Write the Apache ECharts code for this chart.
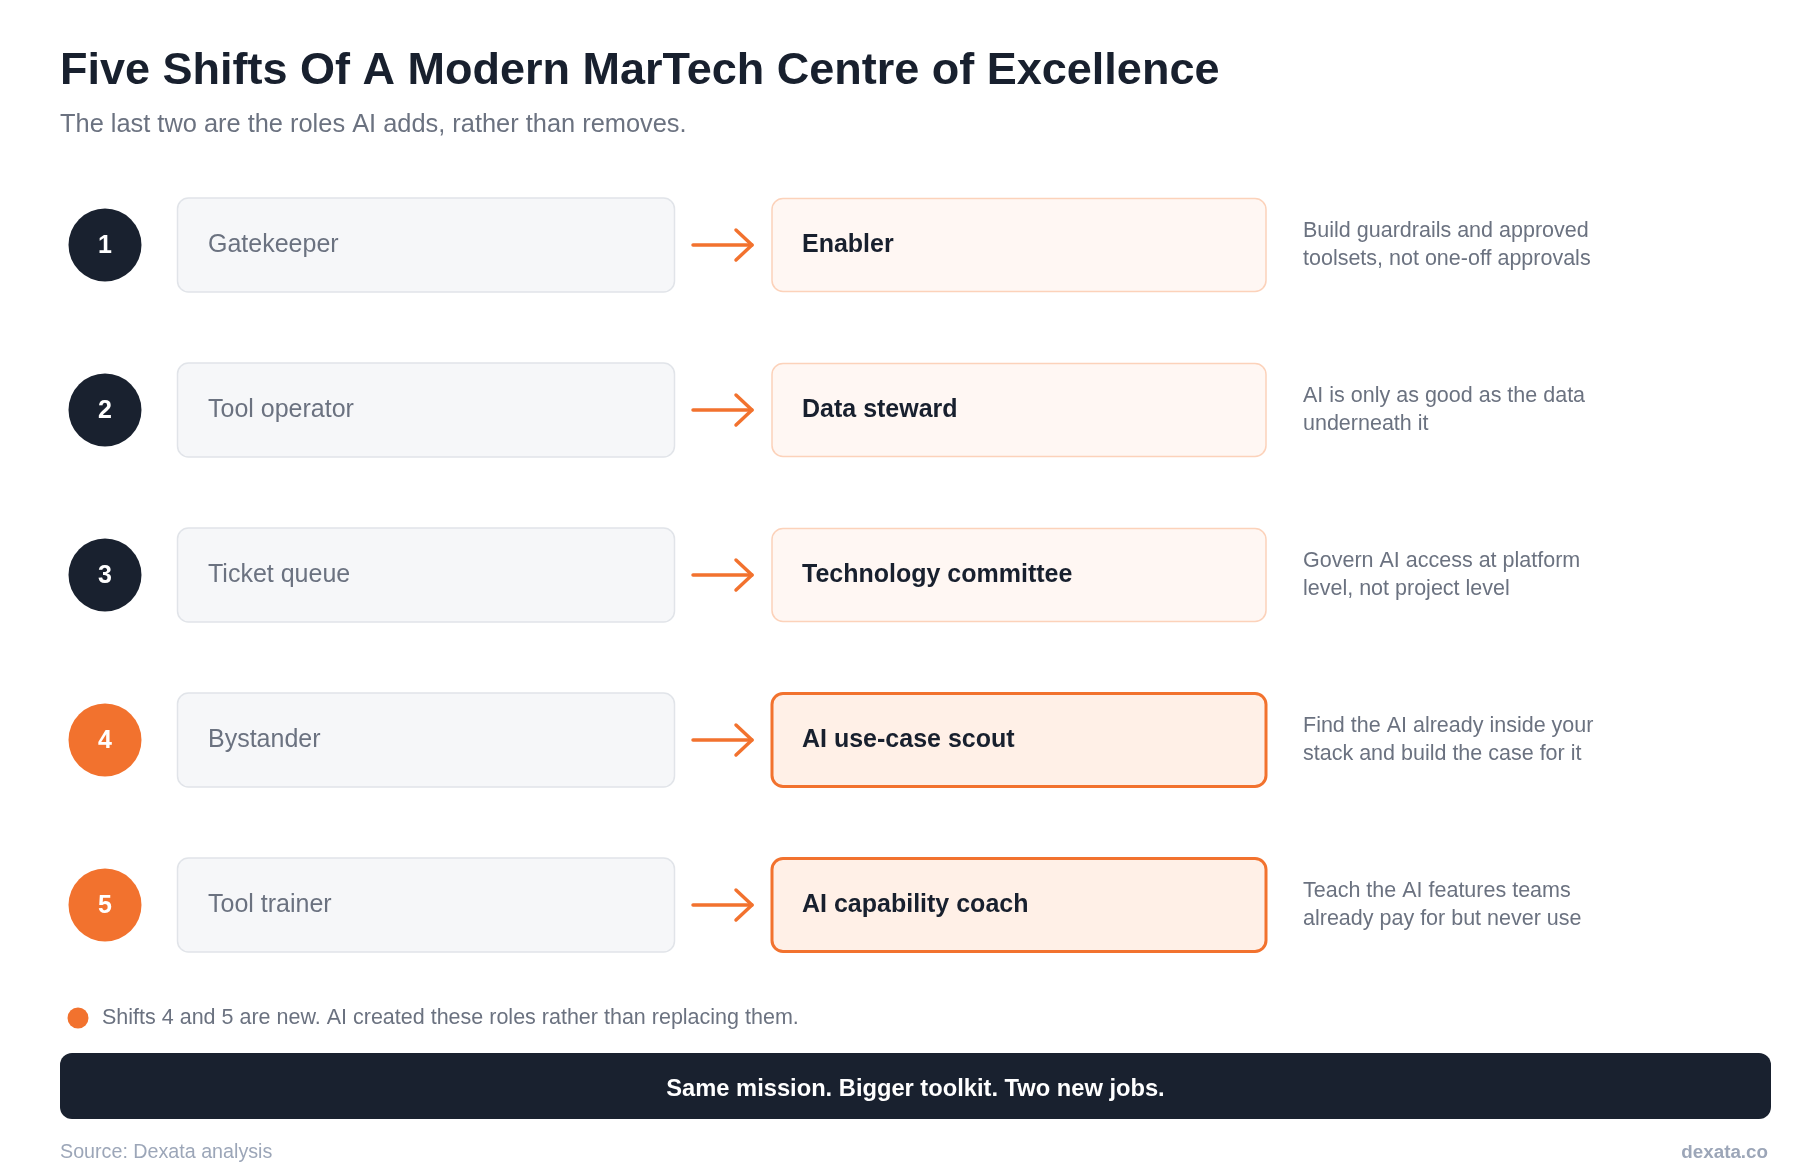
<!DOCTYPE html>
<html>
<head>
<meta charset="utf-8">
<title>Five Shifts Of A Modern MarTech Centre of Excellence</title>
<script src="https://cdn.jsdelivr.net/npm/echarts@6/dist/echarts.min.js"></script>
<style>
  html, body { margin: 0; padding: 0; background: #ffffff; }
  #chart { width: 1800px; height: 1170px; }
</style>
</head>
<body>
<div id="chart"></div>
<script>
// data
var shiftNums = ['1', '2', '3', '4', '5'];
var fromRoles = ['Gatekeeper', 'Tool operator', 'Ticket queue', 'Bystander', 'Tool trainer'];
var toRoles = ['Enabler', 'Data steward', 'Technology committee', 'AI use-case scout', 'AI capability coach'];
var shiftNotes = [
  'Build guardrails and approved\ntoolsets, not one-off approvals',
  'AI is only as good as the data\nunderneath it',
  'Govern AI access at platform\nlevel, not project level',
  'Find the AI already inside your\nstack and build the case for it',
  'Teach the AI features teams\nalready pay for but never use'
];
var isNewRole = [false, false, false, true, true];

var titleText = 'Five Shifts Of A Modern MarTech Centre of Excellence';
var subText = 'The last two are the roles AI adds, rather than removes.';
var legendNote = 'Shifts 4 and 5 are new. AI created these roles rather than replacing them.';
var bannerText = 'Same mission. Bigger toolkit. Two new jobs.';
var sourceText = 'Source: Dexata analysis';
var brandText = 'dexata.co';

// colours
var NAVY = '#19212f';
var ORANGE = '#f2722e';
var GREY = '#6b7280';
var FONT = '"Liberation Sans", Arial, Helvetica, sans-serif';

function renderRow(params, api) {
  var idx = api.value(1);
  var cy = api.coord([0, idx])[1];
  var fresh = isNewRole[idx];
  return {
    type: 'group',
    children: [
      {
        type: 'circle',
        shape: { cx: 105, cy: cy, r: 36.5 },
        style: { fill: fresh ? ORANGE : NAVY }
      },
      {
        type: 'text',
        style: {
          text: shiftNums[idx], x: 105, y: cy + 1, align: 'center', verticalAlign: 'middle',
          fontFamily: FONT, fontSize: 25, fontWeight: 'bold', fill: '#ffffff'
        }
      },
      {
        type: 'rect',
        shape: { x: 177.5, y: cy - 47, width: 497, height: 94, r: 11 },
        style: { fill: '#f6f7f9', stroke: '#e1e4e9', lineWidth: 1.5 }
      },
      {
        type: 'text',
        style: {
          text: fromRoles[idx], x: 208, y: cy, verticalAlign: 'middle',
          fontFamily: FONT, fontSize: 25, fill: GREY
        }
      },
      {
        type: 'polyline',
        shape: { points: [[693, cy], [752, cy]] },
        style: { stroke: ORANGE, lineWidth: 3.5, lineCap: 'round', fill: null }
      },
      {
        type: 'polyline',
        shape: { points: [[736, cy - 15], [752, cy], [736, cy + 15]] },
        style: { stroke: ORANGE, lineWidth: 3.5, lineCap: 'round', lineJoin: 'round', fill: null }
      },
      {
        type: 'rect',
        shape: { x: 772, y: cy - 46.5, width: 494, height: 93, r: 11 },
        style: fresh
          ? { fill: '#fff0e7', stroke: ORANGE, lineWidth: 3 }
          : { fill: '#fff7f3', stroke: '#fcd2ba', lineWidth: 1.5 }
      },
      {
        type: 'text',
        style: {
          text: toRoles[idx], x: 802, y: cy, verticalAlign: 'middle',
          fontFamily: FONT, fontSize: 25, fontWeight: 'bold', fill: '#18202e'
        }
      },
      {
        type: 'text',
        style: {
          text: shiftNotes[idx], x: 1303, y: cy, verticalAlign: 'middle',
          fontFamily: FONT, fontSize: 21.5, lineHeight: 28, fill: GREY
        }
      }
    ]
  };
}

var myChart = echarts.init(document.getElementById('chart'), null, { renderer: 'canvas' });

var option = {
  backgroundColor: '#ffffff',
  animation: false,
  title: [
    {
      text: titleText,
      left: 60, top: 44, padding: 0,
      textStyle: { fontFamily: FONT, fontSize: 45, fontWeight: 'bold', color: '#18202e', lineHeight: 56 }
    },
    {
      text: subText,
      left: 60, top: 109, padding: 0,
      textStyle: { fontFamily: FONT, fontSize: 25.4, fontWeight: 'normal', color: GREY, lineHeight: 32 }
    }
  ],
  grid: { left: 0, right: 0, top: 162.5, bottom: 182.5 },
  xAxis: { type: 'value', min: 0, max: 1800, show: false },
  yAxis: { type: 'category', data: shiftNums, inverse: true, show: false },
  series: [
    {
      type: 'custom',
      renderItem: renderRow,
      data: shiftNums.map(function (n, i) { return [0, i]; }),
      encode: { x: 0, y: 1 },
      silent: true
    }
  ],
  graphic: [
    { type: 'circle', shape: { cx: 78, cy: 1018, r: 10.5 }, style: { fill: ORANGE } },
    {
      type: 'text', x: 102, y: 1018,
      style: { text: legendNote, verticalAlign: 'middle', fontFamily: FONT, fontSize: 21.5, fill: GREY }
    },
    { type: 'rect', shape: { x: 60, y: 1053, width: 1711, height: 66, r: 12 }, style: { fill: NAVY } },
    {
      type: 'text', x: 915.5, y: 1089,
      style: {
        text: bannerText, align: 'center', verticalAlign: 'middle',
        fontFamily: FONT, fontSize: 23.7, fontWeight: 'bold', fill: '#ffffff'
      }
    },
    {
      type: 'text', x: 60, y: 1153,
      style: { text: sourceText, verticalAlign: 'middle', fontFamily: FONT, fontSize: 19.7, fill: '#9ca6b8' }
    },
    {
      type: 'text', x: 1768, y: 1153,
      style: {
        text: brandText, align: 'right', verticalAlign: 'middle',
        fontFamily: FONT, fontSize: 18.8, fontWeight: 'bold', fill: '#9ca6b8'
      }
    }
  ]
};

myChart.setOption(option);
</script>
</body>
</html>
